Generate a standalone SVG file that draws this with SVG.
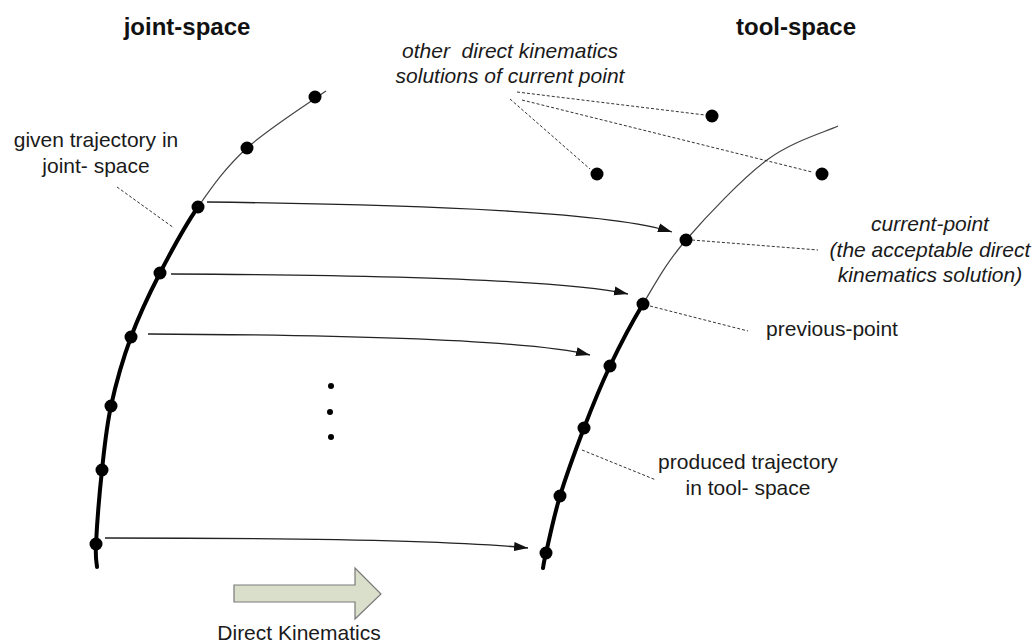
<svg xmlns="http://www.w3.org/2000/svg" width="1034" height="644" viewBox="0 0 1034 644">
  <style>
    .title { font-family: "Liberation Sans", Arial, sans-serif; font-weight: bold; font-size: 24px; fill: #111; text-anchor: middle; }
    .label { font-family: "Liberation Sans", Arial, sans-serif; font-size: 21px; fill: #1a1a1a; text-anchor: middle; }
    .ital { font-style: italic; }
    .thin { fill: none; stroke: #444; stroke-width: 1.2; }
    .thick { fill: none; stroke: #000; stroke-width: 4; stroke-linecap: round; }
    .map { fill: none; stroke: #222; stroke-width: 1.3; marker-end: url(#head); }
    .lead { fill: none; stroke: #333; stroke-width: 1; stroke-dasharray: 3 2; }
    .pt { fill: #000; }
  </style>
  <defs>
    <marker id="head" markerUnits="userSpaceOnUse" markerWidth="15" markerHeight="10" refX="14" refY="5" orient="auto">
      <path d="M0,0.5 L14,5 L0,9.5 Z" fill="#111"/>
    </marker>
  </defs>
  <rect width="1034" height="644" fill="#fff"/>

  <!-- space headings -->
  <g id="heading-joint"><text class="title" x="187" y="35">joint-space</text></g>
  <g id="heading-tool"><text class="title" x="796" y="35">tool-space</text></g>

  <!-- trajectory in joint space -->
  <g id="joint-trajectory">
    <path class="thin" d="M326,91 C312.8,100.5 268.3,128.7 247,148 C225.7,167.3 212.5,186.2 198,207"/>
    <path class="thick" d="M198,207 C183.5,227.8 171.2,251.3 160,273 C148.8,294.7 139.2,314.8 131,337 C122.8,359.2 115.8,383.8 111,406 C106.2,428.2 104.5,447 102,470 C99.5,493 96.8,527.8 96,544 C95.2,560.2 96.8,563.2 97,567"/>
    <circle class="pt" cx="315" cy="97" r="6.5"/>
    <circle class="pt" cx="247" cy="148" r="6.5"/>
    <circle class="pt" cx="198" cy="207" r="6.5"/>
    <circle class="pt" cx="160" cy="273" r="6.5"/>
    <circle class="pt" cx="131" cy="337" r="6.5"/>
    <circle class="pt" cx="111" cy="406" r="6.5"/>
    <circle class="pt" cx="102" cy="470" r="6.5"/>
    <circle class="pt" cx="96" cy="544" r="6.5"/>
  </g>

  <!-- trajectory in tool space -->
  <g id="tool-trajectory">
    <path class="thin" d="M838,126 C826.2,131.7 792.3,141 767,160 C741.7,179 706.7,216 686,240 C665.3,264 655.7,283 643,304"/>
    <path class="thick" d="M643,304 C630.3,325 619.8,345.3 610,366 C600.2,386.7 592.3,406.3 584,428 C575.7,449.7 566.3,475.2 560,496 C553.7,516.8 548.8,541 546,553 C543.2,565 543.5,565.5 543,568"/>
    <circle class="pt" cx="686" cy="240" r="6.5"/>
    <circle class="pt" cx="643" cy="304" r="6.5"/>
    <circle class="pt" cx="610" cy="366" r="6.5"/>
    <circle class="pt" cx="584" cy="428" r="6.5"/>
    <circle class="pt" cx="560" cy="496" r="6.5"/>
    <circle class="pt" cx="546" cy="553" r="6.5"/>
  </g>

  <!-- alternative solutions -->
  <g id="other-solutions">
    <circle class="pt" cx="712" cy="116" r="6.5"/>
    <circle class="pt" cx="597" cy="174" r="6.5"/>
    <circle class="pt" cx="822" cy="174" r="6.5"/>
  </g>

  <!-- ellipsis between mappings -->
  <g id="ellipsis">
    <circle class="pt" cx="331" cy="386" r="3"/>
    <circle class="pt" cx="330" cy="412" r="3"/>
    <circle class="pt" cx="331" cy="437" r="3"/>
  </g>

  <!-- mapping arrows and leader lines -->
  <g id="connectors">
    <path class="map" d="M207,202 C430,205 610,212 672,232"/>
    <path class="map" d="M171,274 C400,275 570,281 628,294"/>
    <path class="map" d="M148,334 C370,335 535,341 590,355"/>
    <path class="map" d="M105,538 C300,538 460,541 528,548"/>
    <path class="lead" d="M117,187 L174,228"/>
    <path class="lead" d="M517,92 L705,115"/>
    <path class="lead" d="M522,100 L812,172"/>
    <path class="lead" d="M510,99 L590,169"/>
    <path class="lead" d="M692,240 L818,250"/>
    <path class="lead" d="M650,306 L748,331"/>
    <path class="lead" d="M582,450 L656,480"/>
  </g>

  <!-- labels -->
  <g id="label-given">
    <text class="label" x="96" y="147">given trajectory in</text>
    <text class="label" x="96" y="173">joint- space</text>
  </g>
  <g id="label-other">
    <text class="label ital" x="510" y="58" xml:space="preserve">other  direct kinematics</text>
    <text class="label ital" x="510" y="83">solutions of current point</text>
  </g>
  <g id="label-current">
    <text class="label ital" x="930" y="231">current-point</text>
    <text class="label ital" x="930" y="257">(the acceptable direct</text>
    <text class="label ital" x="930" y="282">kinematics solution)</text>
  </g>
  <g id="label-previous"><text class="label" x="832" y="336">previous-point</text></g>
  <g id="label-produced">
    <text class="label" x="748" y="469">produced trajectory</text>
    <text class="label" x="748" y="495">in tool- space</text>
  </g>

  <!-- direction block arrow -->
  <g id="direct-kinematics">
    <polygon points="234,585 355,585 355,568 381,594 355,619 355,602 234,602" fill="#d9dfcb" stroke="#7a7a7a" stroke-width="1.2"/>
    <text class="label" x="299" y="640">Direct Kinematics</text>
  </g>
</svg>
